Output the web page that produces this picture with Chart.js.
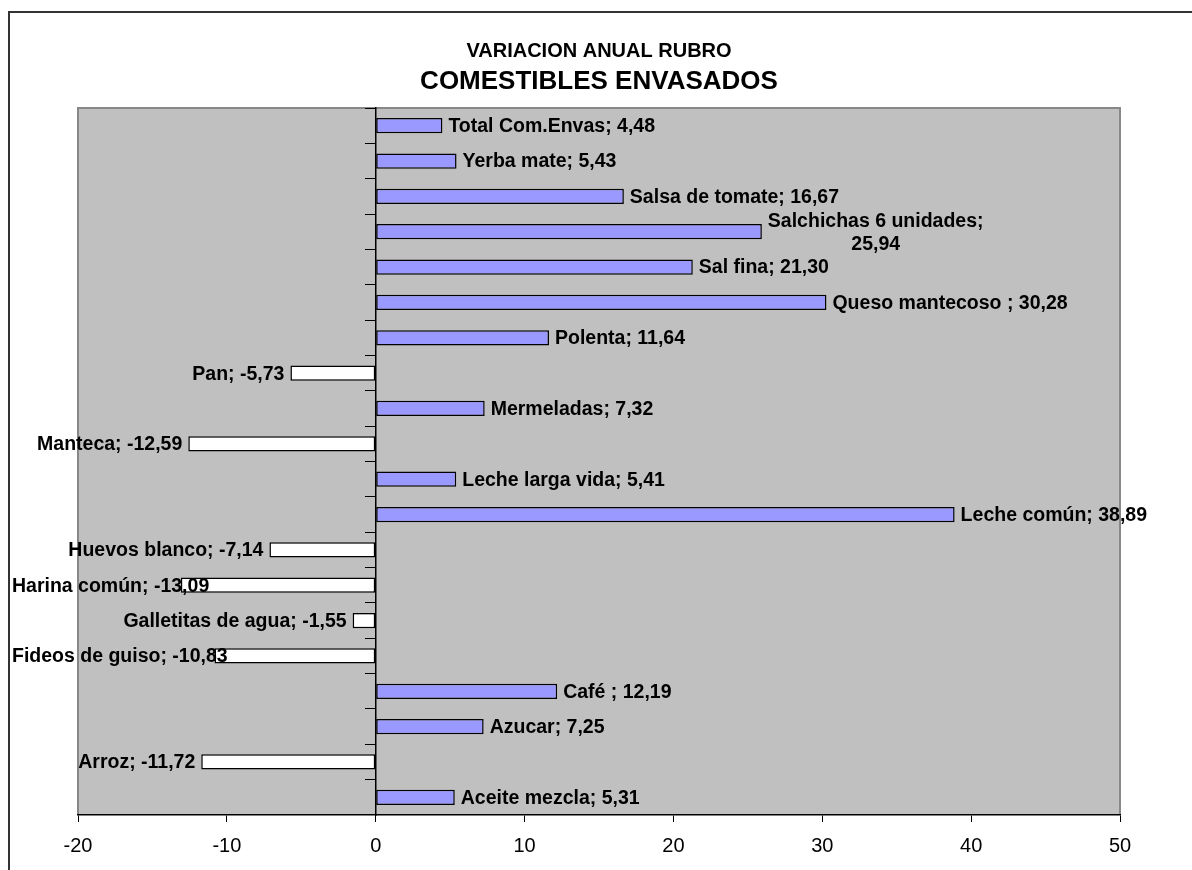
<!DOCTYPE html>
<html>
<head>
<meta charset="utf-8">
<script src="https://cdn.jsdelivr.net/npm/chart.js@4.4.1/dist/chart.umd.min.js"></script>
<style>
  html, body { margin: 0; padding: 0; background: #fff; }
  #wrap { position: relative; width: 1192px; height: 870px; }
</style>
</head>
<body>
<div id="wrap"><canvas id="chart"></canvas></div>
<script>
// Categories, top to bottom
const categories = [
  'Total Com.Envas', 'Yerba mate', 'Salsa de tomate', 'Salchichas 6 unidades',
  'Sal fina', 'Queso mantecoso ', 'Polenta', 'Pan', 'Mermeladas', 'Manteca',
  'Leche larga vida', 'Leche común', 'Huevos blanco', 'Harina común',
  'Galletitas de agua', 'Fideos de guiso', 'Café ', 'Azucar', 'Arroz', 'Aceite mezcla'
];

// Annual variation (%)
const variation = [
  4.48, 5.43, 16.67, 25.94,
  21.30, 30.28, 11.64, -5.73, 7.32, -12.59,
  5.41, 38.89, -7.14, -13.09,
  -1.55, -10.83, 12.19, 7.25, -11.72, 5.31
];

const xTicks = [-20, -10, 0, 10, 20, 30, 40, 50];
const titleText = 'VARIACION ANUAL RUBRO';
const subtitleText = 'COMESTIBLES ENVASADOS';

const FONT = "'Liberation Sans', Arial, Helvetica, sans-serif";
const POS_COLOR = '#9999FF';
const NEG_COLOR = '#FFFFFF';

function fmt(v) {
  return v.toFixed(2).replace('.', ',');
}

function wrapWords(ctx, text, maxW) {
  const words = text.split(' ').filter(w => w.length);
  const lines = [];
  let cur = '';
  for (const w of words) {
    const t = cur ? cur + ' ' + w : w;
    if (cur && ctx.measureText(t).width > maxW) {
      lines.push(cur);
      cur = w;
    } else {
      cur = t;
    }
  }
  if (cur) lines.push(cur);
  return lines;
}

// Frame, plot background and plot border
const backdrop = {
  id: 'backdrop',
  beforeDraw(chart) {
    const { ctx, chartArea: a } = chart;
    ctx.save();
    ctx.strokeStyle = '#333';
    ctx.lineWidth = 2;
    ctx.beginPath();
    ctx.moveTo(9, chart.height + 2);
    ctx.lineTo(9, 12);
    ctx.lineTo(chart.width + 2, 12);
    ctx.stroke();

    ctx.fillStyle = '#C0C0C0';
    ctx.fillRect(a.left, a.top, a.right - a.left, a.bottom - a.top);
    ctx.strokeStyle = '#888';
    ctx.lineWidth = 2;
    ctx.beginPath();
    ctx.moveTo(a.left, a.bottom);
    ctx.lineTo(a.left, a.top);
    ctx.lineTo(a.right, a.top);
    ctx.lineTo(a.right, a.bottom);
    ctx.stroke();
    ctx.restore();
  }
};

// "Name; value" labels at the end of each bar
const barLabels = {
  id: 'barLabels',
  afterDatasetsDraw(chart) {
    const { ctx } = chart;
    const meta = chart.getDatasetMeta(0);
    ctx.save();
    ctx.font = 'bold 19.5px ' + FONT;
    ctx.fillStyle = '#000';
    ctx.textBaseline = 'middle';
    ctx.textAlign = 'center';
    const lineH = 23;
    meta.data.forEach((bar, i) => {
      const v = variation[i];
      const text = categories[i] + '; ' + fmt(v);
      const lines = wrapWords(ctx, text, 245);
      const w = Math.max(...lines.map(l => ctx.measureText(l).width));
      let left;
      if (v >= 0) {
        left = bar.x + 6;
      } else {
        left = Math.max(12, bar.x - 6 - w);
      }
      const cx = left + w / 2;
      const y0 = bar.y + 1 - (lines.length - 1) * lineH / 2;
      lines.forEach((l, k) => ctx.fillText(l, cx, y0 + k * lineH));
    });
    ctx.restore();
  }
};

new Chart(document.getElementById('chart'), {
  type: 'bar',
  data: {
    labels: categories,
    datasets: [{
      data: variation,
      backgroundColor: c => (c.raw < 0 ? NEG_COLOR : POS_COLOR),
      borderColor: '#000',
      borderWidth: 1.5,
      borderSkipped: false,
      categoryPercentage: 1,
      barPercentage: 0.43
    }]
  },
  options: {
    indexAxis: 'y',
    responsive: true,
    maintainAspectRatio: false,
    animation: false,
    layout: { padding: { left: 78, right: 72, top: 0, bottom: 0 } },
    plugins: {
      legend: { display: false },
      tooltip: { enabled: false },
      title: {
        display: true,
        text: titleText,
        color: '#000',
        font: { family: FONT, size: 20, weight: 'bold', lineHeight: 1 },
        padding: { top: 41, bottom: 0 }
      },
      subtitle: {
        display: true,
        text: subtitleText,
        color: '#000',
        font: { family: FONT, size: 26, weight: 'bold', lineHeight: 1 },
        padding: { top: 8, bottom: 13 }
      }
    },
    scales: {
      x: {
        type: 'linear',
        position: 'bottom',
        min: xTicks[0],
        max: xTicks[xTicks.length - 1],
        afterBuildTicks: s => { s.ticks = xTicks.map(v => ({ value: v })); },
        ticks: {
          color: '#000',
          font: { family: FONT, size: 20 },
          padding: 12,
          maxRotation: 0,
          callback: v => String(v)
        },
        grid: { drawOnChartArea: false, drawTicks: true, tickLength: 7, color: '#000', lineWidth: 1 },
        border: { display: true, color: '#000', width: 1.5 },
        afterFit: s => { s.height = 55; }
      },
      y: {
        type: 'category',
        position: { x: 0 },
        ticks: { display: false },
        grid: { drawOnChartArea: false, drawTicks: true, tickLength: 10, color: '#000', lineWidth: 1, offset: true },
        border: { display: true, color: '#000', width: 1.5 }
      }
    }
  },
  plugins: [backdrop, barLabels]
});
</script>
</body>
</html>
